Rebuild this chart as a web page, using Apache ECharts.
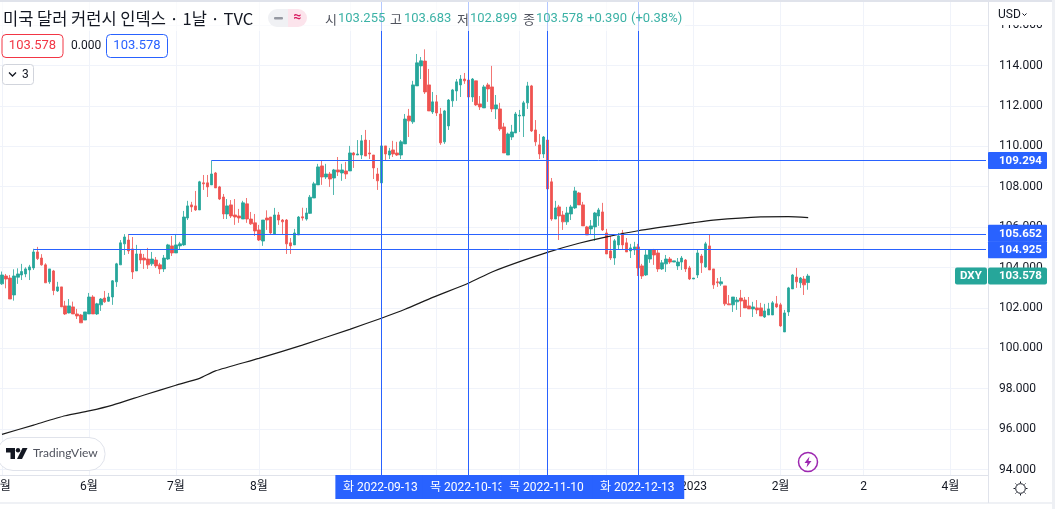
<!DOCTYPE html>
<html><head><meta charset="utf-8">
<style>html,body{margin:0;padding:0;background:#fff}#c{width:1055px;height:509px}</style>
<script src="https://cdn.jsdelivr.net/npm/echarts@6/dist/echarts.min.js"></script>
</head><body><div id="c"></div>
<script>
// one row per trading day from 2022-05-02: [open, close, low, high]
const ohlc = [
[103.19,103.63,103.14,103.80],[103.58,103.43,102.97,103.68],[103.48,102.44,102.44,103.63],[102.64,103.58,102.36,103.91],[103.52,103.68,103.19,103.96],
[103.63,103.80,103.38,104.18],[103.68,103.93,103.52,104.01],[103.88,104.03,103.38,104.13],[103.98,104.77,103.88,104.925],[104.77,104.44,104.37,105.02],
[104.47,104.13,104.09,104.66],[104.13,103.24,103.24,104.21],[103.29,103.93,103.19,103.93],[103.83,102.86,102.63,103.88],[102.84,103.04,102.79,103.29],
[103.04,102.05,102.05,103.04],[102.10,101.70,101.65,102.35],[101.75,102.10,101.73,102.44],[102.05,101.70,101.70,102.31],[101.70,101.60,101.45,101.95],
[101.65,101.26,101.26,101.70],[101.40,101.80,101.40,101.80],[101.70,102.54,101.70,102.74],[102.54,101.70,101.70,102.63],[101.70,102.20,101.65,102.25],
[102.15,102.44,101.85,102.49],[102.49,102.30,102.25,102.84],[102.33,102.54,102.30,102.74],[102.54,103.34,102.15,103.38],[103.29,104.18,103.04,104.23],
[104.13,105.22,104.13,105.36],[105.17,105.51,104.62,105.652],[105.36,104.82,104.67,105.652],[104.92,103.78,103.43,105.51],[103.83,104.67,103.83,105.12],
[104.67,104.37,104.18,104.87],[104.47,104.37,103.93,104.67],[104.42,104.13,103.93,104.97],[104.18,104.42,104.08,104.77],[104.37,104.08,103.98,104.52],
[104.13,103.93,103.68,104.23],[103.93,104.47,103.78,104.62],[104.42,105.12,104.37,105.17],[105.07,104.72,104.57,105.56],[104.72,105.12,104.72,105.66],
[105.07,105.17,104.87,105.27],[105.12,106.50,105.07,106.80],[106.45,107.05,106.35,107.30],[107.10,107.00,106.75,107.25],[107.05,106.85,106.80,107.79],
[106.85,108.24,106.85,108.29],[108.19,108.14,107.84,108.58],[108.19,107.99,107.49,108.58],[108.09,108.63,108.09,109.294],[108.68,107.94,107.94,108.73],
[107.99,107.39,107.34,108.04],[107.49,106.65,106.40,107.64],[106.65,107.05,106.40,107.39],[107.10,106.55,106.45,107.34],[106.60,106.50,106.11,107.39],
[106.55,106.45,106.21,106.90],[106.40,107.20,106.40,107.30],[107.15,106.40,106.21,107.44],[106.40,106.16,106.11,106.75],[106.21,105.81,105.56,106.65],
[105.86,105.36,105.31,106.11],[105.31,106.35,105.07,106.35],[106.45,106.35,105.86,106.83],[106.50,105.71,105.66,106.50],[105.66,106.60,105.66,106.95],
[106.60,106.35,106.11,106.75],[106.35,106.26,105.66,106.40],[106.35,105.17,104.67,106.40],[105.22,105.07,104.67,105.46],[105.12,105.71,105.12,105.91],
[105.61,106.50,105.61,106.55],[106.51,106.45,106.32,106.96],[106.40,106.70,106.32,106.95],[106.68,107.48,106.65,107.59],[107.44,108.14,107.44,108.24],
[108.09,108.98,108.09,109.13],[109.03,108.48,108.09,109.28],[108.48,108.63,108.38,109.13],[108.63,108.38,107.99,108.73],[108.43,108.83,107.59,108.88],
[108.83,108.73,108.53,109.47],[108.68,108.83,108.29,109.13],[108.78,108.63,108.38,109.23],[108.78,109.67,108.78,110.02],[109.67,109.57,108.93,109.72],
[109.57,109.62,109.57,110.31],[109.57,110.27,109.37,110.56],[110.31,109.52,109.52,110.81],[109.67,109.62,109.37,110.31],[109.57,108.93,108.38,109.57],
[108.63,108.29,107.84,108.93],[108.19,110.02,107.67,110.02],[110.02,109.62,109.32,110.02],[109.57,109.77,109.37,109.92],[109.82,109.62,109.47,110.27],
[109.67,109.57,109.52,110.22],[109.57,110.22,109.37,110.31],[110.12,111.35,110.12,111.60],[111.50,111.26,110.46,111.85],[111.21,113.04,111.11,113.24],
[112.99,114.13,112.99,114.57],[113.98,114.23,113.33,114.42],[114.22,112.69,112.59,114.80],[113.04,111.75,111.75,113.83],[111.70,112.20,111.60,112.69],
[112.20,111.65,111.50,112.54],[111.60,110.17,110.07,111.90],[110.22,111.75,110.12,111.80],[111.01,112.29,110.81,112.34],[112.25,112.79,111.95,112.84],
[112.74,113.19,112.25,113.33],[113.04,113.33,112.44,113.53],[113.33,113.24,113.09,113.63],[113.28,112.44,112.15,113.93],[112.44,113.33,112.20,113.38],
[113.24,112.05,112.00,113.24],[112.10,111.95,111.80,112.49],[111.90,112.94,111.90,113.04],[113.04,112.84,112.20,113.14],[112.94,111.85,111.70,113.98],
[111.85,112.05,111.35,112.54],[111.85,110.86,110.76,112.15],[110.96,109.67,109.67,111.16],[109.57,110.61,109.57,110.68],[110.46,110.71,110.31,111.06],
[110.66,111.60,110.66,111.70],[111.50,111.54,110.71,111.80],[111.50,112.15,110.46,112.25],[112.15,112.99,111.85,113.19],[112.99,110.76,110.71,113.04],
[110.81,110.22,110.02,111.30],[110.07,109.62,109.37,110.61],[109.62,110.46,109.42,110.51],[110.31,107.89,107.85,111.01],[108.24,106.40,106.31,108.43],
[106.40,106.95,106.40,107.30],[107.00,106.55,105.36,107.10],[106.60,106.26,105.86,106.80],[106.26,106.70,106.11,107.00],[106.65,107.00,106.35,107.10],
[106.95,107.79,106.90,107.99],[107.69,107.10,107.10,107.74],[107.10,106.06,106.06,107.25],[106.01,105.61,105.61,106.06],[105.91,106.06,105.61,106.35],
[106.01,106.70,105.32,106.75],[106.55,106.85,106.06,106.95],[106.75,105.86,105.81,107.20],[105.71,104.67,104.67,105.91],[104.82,104.47,104.37,105.56],
[104.47,105.32,104.13,105.41],[105.12,105.56,104.87,105.71],[105.71,105.12,104.87,105.86],[105.22,104.77,104.77,105.46],[104.82,104.97,104.47,105.17],
[104.87,105.02,104.62,105.27],[105.02,103.98,103.58,105.17],[104.08,103.58,103.43,104.18],[103.63,104.62,103.58,104.87],[104.42,104.87,104.23,104.87],
[104.87,104.62,104.13,104.92],[104.72,103.93,103.78,104.87],[103.93,104.23,103.88,104.37],[104.18,104.42,103.78,104.62],[104.42,104.27,104.18,104.52],
[104.27,104.33,104.27,104.33],[104.08,104.27,103.88,104.47],[104.27,104.47,103.88,104.57],[104.37,103.93,103.78,104.42],[103.98,103.43,103.38,104.08],
[103.43,103.48,103.43,103.48],[103.63,104.72,103.48,104.87],[104.57,104.23,103.73,104.67],[104.03,105.17,103.98,105.27],[105.07,103.88,103.88,105.652],
[103.93,103.14,102.94,103.93],[103.29,103.24,103.04,103.48],[103.19,103.29,103.09,103.53],[103.09,102.20,102.10,103.09],[102.20,102.15,102.15,102.64],
[102.15,102.54,101.80,102.54],[102.30,102.39,101.90,102.54],[102.49,102.34,101.55,102.89],[102.39,102.00,102.00,102.54],[102.10,101.95,101.95,102.54],
[101.95,102.05,101.55,102.30],[102.00,101.90,101.70,102.39],[102.00,101.60,101.60,102.25],[101.55,101.85,101.50,102.20],[101.65,101.95,101.65,102.25],
[101.65,102.25,101.65,102.34],[102.20,102.05,102.00,102.59],[102.15,101.11,101.06,102.25],[100.81,101.75,100.81,101.90],[101.80,102.99,101.60,103.04],
[102.94,103.63,102.94,103.68],[103.53,103.29,102.99,103.98],[103.24,103.48,102.99,103.53],[103.43,103.14,102.64,103.58],[103.255,103.578,102.899,103.683]
];
// black moving-average line, read at selected days: [date, value]
const maPoints = [
['2022-05-02',95.74],['2022-05-12',96.20],['2022-05-24',96.66],['2022-06-01',96.90],['2022-06-09',97.19],['2022-06-21',97.69],
['2022-07-01',98.17],['2022-07-11',98.51],['2022-07-15',98.88],['2022-08-01',99.50],['2022-08-16',100.16],['2022-09-01',100.94],
['2022-09-13',101.49],['2022-09-21',101.93],['2022-09-30',102.52],['2022-10-13',103.22],['2022-10-21',103.78],['2022-11-01',104.29],
['2022-11-10',104.75],['2022-11-22',105.20],['2022-12-01',105.52],['2022-12-13',105.82],['2023-01-02',106.22],['2023-01-09',106.35],
['2023-01-25',106.51],['2023-02-03',106.52],['2023-02-10',106.47]
];
const monthTicks = {'2022-05-02':'5월','2022-06-01':'6월','2022-07-01':'7월','2022-08-01':'8월','2022-09-01':'9월','2022-10-03':'10월',
'2022-11-01':'11월','2022-12-01':'12월','2023-01-02':'2023','2023-02-01':'2월','2023-03-02':'2','2023-04-03':'4월'};
const crossDates = [['2022-09-13','화 2022-09-13'],['2022-10-13','목 2022-10-13'],['2022-11-10','목 2022-11-10'],['2022-12-13','화 2022-12-13']];
const levels = [['2022-07-14',109.294],['2022-06-15',105.652],['2022-05-12',104.925]];
const lastPrice = 103.578;

const slotCount = 250;
const dates = [];
for (let d = new Date(Date.UTC(2022,4,2)); dates.length < slotCount; d = new Date(d.getTime()+864e5)) {
  const w = d.getUTCDay(); if (w !== 0 && w !== 6) dates.push(d.toISOString().slice(0,10));
}
const UP='#26a69a', DOWN='#ef5350', BLUE='#2962ff', INK='#131722', GRID='#f0f3fa', EDGE='#e0e3eb';
const FF='Roboto,"Noto Sans CJK KR",sans-serif';
const isTick=(i,v)=>monthTicks[v]!==undefined;

const chart = echarts.init(document.getElementById('c'),null,{renderer:'canvas'});
chart.setOption({
  animation:false, backgroundColor:'#fff',
  grid:{left:0,width:988,top:-15.3,height:525.2,containLabel:false,outerBoundsMode:'none'},
  xAxis:[
    {type:'category',data:dates,boundaryGap:true,z:0,axisLine:{show:false},axisTick:{show:false},axisLabel:{show:false},
     splitLine:{show:true,interval:isTick,alignWithLabel:true,lineStyle:{color:GRID,width:1}}},
    {type:'category',data:dates,boundaryGap:true,z:20,position:'bottom',offset:-35,
     axisLine:{show:true,onZero:false,lineStyle:{color:EDGE}},axisTick:{show:false},splitLine:{show:false},
     axisLabel:{show:true,interval:isTick,hideOverlap:false,margin:6,formatter:v=>monthTicks[v]||'',color:INK,fontSize:12,fontFamily:FF}}
  ],
  yAxis:{type:'value',position:'right',min:92,max:118,interval:2,
    axisLine:{show:true,lineStyle:{color:EDGE}},axisTick:{show:false},
    splitLine:{show:true,lineStyle:{color:GRID,width:1}},
    axisLabel:{margin:11,padding:[2,0,0,0],color:INK,fontSize:12,fontFamily:FF,formatter:v=>v===92||v===118?'':v.toFixed(3)}},
  series:[
    {type:'line',name:'MA',data:maPoints,xAxisIndex:0,showSymbol:false,symbol:'none',connectNulls:true,z:3,smooth:0.2,
     lineStyle:{color:'#1b1b1b',width:1.2}},
    {type:'candlestick',name:'DXY',xAxisIndex:0,data:ohlc,barWidth:3,z:2,
     itemStyle:{color:UP,color0:DOWN,borderColor:UP,borderColor0:DOWN,borderWidth:0.8},
     markLine:{silent:true,symbol:'none',z:5,label:{show:false},lineStyle:{color:BLUE,width:1,type:'solid'},
       data:[
         ...crossDates.map(c=>({xAxis:c[0]})),
         ...levels.map(l=>[{coord:[l[0],l[1]]},{coord:[dates[slotCount-1],l[1]]}])
       ]}}
  ]
});

// annotations positioned through the chart's own scales
const X=d=>chart.convertToPixel({xAxisIndex:0},d), Y=v=>chart.convertToPixel({yAxisIndex:0},v);
const txt=(t,x,y,fill,font,z,align)=>({type:'text',z:z||40,silent:true,style:{text:t,x,y,fill,font:font||('12px '+FF),align:align||'left',verticalAlign:'middle'}});
const rect=(x,y,w,h,fill,z,r,stroke)=>({type:'rect',z:z||30,silent:true,shape:{x,y,width:w,height:h,r:r||0},style:{fill:fill,stroke:stroke||null,lineWidth:1}});
const g=[];
// frame
g.push(rect(0,475.5,988,28,'#fff',6));
g.push(rect(989,2,63,23,'#fff',10));
g.push(rect(0,503,1055,6,'#fff',25));
g.push(rect(0,502.5,1052,1,EDGE,26));
g.push(rect(0,0,1055,2,'#e0e3eb',26));
g.push(rect(1052,0,3,509,'#eef0f4',26));
g.push(rect(0,2,685,29,'rgba(255,255,255,0.65)',7));
// header
g.push(txt('미국 달러 커런시 인덱스 · 1날 · TVC',3,19,INK,'16.5px "Noto Sans CJK KR",sans-serif'));
g.push(rect(268,9,20,18,'#f0f1f4',40,[9,0,0,9]));
g.push(rect(288,9,19,18,'#fce4ec',40,[0,9,9,0]));
g.push(rect(274,17,9,2.5,'#9598a1',41,1));
g.push(txt('≈',297.5,17.5,'#d81b60','bold 14px '+FF,41,'center'));
const ohlcText=[['시',325],['고',390],['저',457],['종',523]], vals=[['103.255',338],['103.683',404],['102.899',470],['103.578',536],['+0.390',587],['(+0.38%)',631]];
ohlcText.forEach(o=>g.push(txt(o[0],o[1],19,'#50535e','13px "Noto Sans CJK KR",sans-serif')));
vals.forEach(v=>g.push(txt(v[0],v[1],19,'#3cb2a6','13px '+FF)));
g.push(rect(2,34.5,61,23,'#fff',40,4,'#f23645'));
g.push(txt('103.578',32.5,46,'#f23645','13px '+FF,41,'center'));
g.push(txt('0.000',71,46,INK,'12px '+FF));
g.push(rect(106.5,34.5,61,23,'#fff',40,4,BLUE));
g.push(txt('103.578',137,46,BLUE,'13px '+FF,41,'center'));
g.push(rect(2.5,64.5,31,20,'#fff',40,3,'#d1d4dc'));
g.push({type:'polyline',z:41,silent:true,shape:{points:[[9,72.5],[12.5,76],[16,72.5]]},style:{stroke:INK,lineWidth:1.3,fill:null}});
g.push(txt('3',22,75,INK,'12px '+FF));
g.push(txt('USD',998,15,INK,'12px '+FF));
g.push({type:'polyline',z:41,silent:true,shape:{points:[[1022.5,13.5],[1024.5,15.5],[1026.5,13.5]]},style:{stroke:INK,lineWidth:1,fill:null}});
// price tags
const TAGF='bold 11.5px '+FF;
levels.forEach(l=>{const y=Y(l[1]);const top=l[1]===105.652?y-9.5:(l[1]===104.925?y-7.5:y-8.5);
  g.push(rect(988,top,59,17,BLUE,30,1));
  g.push(txt(l[1].toFixed(3),999,top+9,'#fff',TAGF,31));});
const lp=Y(lastPrice);
g.push(rect(955,lp-8.5,32,17,UP,30,2));
g.push(txt('DXY',960,lp+0.5,'#fff',TAGF,31));
g.push(rect(988,lp-8.5,59,17,UP,30,2));
g.push(txt(lastPrice.toFixed(3),999,lp+0.5,'#fff',TAGF,31));
// date tags
crossDates.forEach((c,i)=>{const x=X(c[0]);
  g.push(rect(x-46,475,92,24,BLUE,30+2*i));
  g.push(txt(c[1],x-1,487.5,'#fff','12px '+FF,31+2*i,'center'));});
// logo
g.push(rect(-3,437.5,108,33,'#fff',40,16,EDGE));
g.push({type:'polygon',z:41,silent:true,shape:{points:[[6,448],[15,448],[15,459],[10.5,459],[10.5,452.5],[6,452.5]]},style:{fill:INK}});
g.push({type:'circle',z:41,silent:true,shape:{cx:18,cy:450.2,r:2.2},style:{fill:INK}});
g.push({type:'polygon',z:41,silent:true,shape:{points:[[22.5,448],[27.5,448],[22,459],[17,459]]},style:{fill:INK}});
g.push(txt('TradingView',33,453.5,'#50535e','12px Lato,'+FF));
// lightning + sun
g.push({type:'circle',z:41,silent:true,shape:{cx:808,cy:462,r:9.5},style:{fill:'#fff',stroke:'#9c27b0',lineWidth:1.5}});
g.push({type:'polygon',z:42,silent:true,shape:{points:[[809.5,456.5],[804.5,463],[807.5,463],[806.5,467.5],[811.5,461],[808.5,461]]},style:{fill:'#9c27b0'}});
g.push({type:'circle',z:41,silent:true,shape:{cx:1020.5,cy:488.5,r:4.8},style:{fill:'#fff',stroke:INK,lineWidth:1}});
[[0,-7,0,-5.5],[0,5.5,0,7],[-7,0,-5.5,0],[5.5,0,7,0],[-5,-5,-4,-4],[4,-4,5,-5],[-5,5,-4,4],[4,4,5,5]].forEach(s=>
  g.push({type:'line',z:41,silent:true,shape:{x1:1020.5+s[0],y1:488.5+s[1],x2:1020.5+s[2],y2:488.5+s[3]},style:{stroke:INK,lineWidth:1}}));
chart.setOption({graphic:{elements:g}});
</script></body></html>
